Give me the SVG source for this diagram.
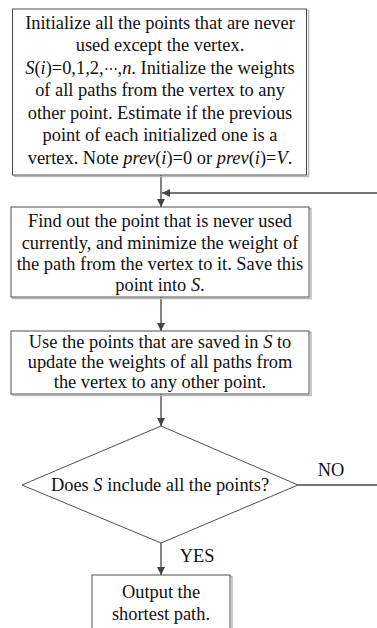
<svg xmlns="http://www.w3.org/2000/svg" width="377" height="628" viewBox="0 0 377 628">
<style>
.box{fill:#fff;stroke:#505050;stroke-width:1}
.sh{fill:none;stroke:#b8b8b8;stroke-width:1.5}
text{font-family:"Liberation Serif","Times New Roman",serif;font-size:18.4px;fill:#111;text-anchor:middle}
.i{font-style:italic}
.ln{stroke:#444;stroke-width:1.3;fill:none}
</style>
<defs>
<marker id="ah" viewBox="0 0 10 10" refX="10" refY="5" markerWidth="9" markerHeight="8" markerUnits="userSpaceOnUse" orient="auto">
<path d="M0,0 L10,5 L0,10 Z" fill="#444"/>
</marker>
</defs>
<rect width="377" height="628" fill="#fff"/>
<g id="connectors">
<line class="ln" x1="161" y1="175" x2="161" y2="207" marker-end="url(#ah)"/>
<line class="ln" x1="377" y1="193" x2="162" y2="193" marker-end="url(#ah)"/>
<line class="ln" x1="161" y1="297" x2="161" y2="331" marker-end="url(#ah)"/>
<line class="ln" x1="161" y1="394" x2="161" y2="426" marker-end="url(#ah)"/>
<line class="ln" x1="161" y1="543" x2="161" y2="575" marker-end="url(#ah)"/>
<line class="ln" x1="298" y1="485" x2="377" y2="485"/>
<text x="197" y="562">YES</text>
<text x="331" y="476">NO</text>
</g>
<g id="init">
<rect class="sh" x="14.5" y="10.5" width="294" height="166"/>
<rect class="box" x="12.5" y="9" width="294" height="166"/>
<text x="160" y="28.5">Initialize all the points that are never</text>
<text x="160" y="51">used except the vertex.</text>
<text x="160" y="73.5"><tspan class="i">S</tspan>(<tspan class="i">i</tspan>)=0,1,2,<tspan font-family="DejaVu Serif" font-size="14">⋯</tspan>,<tspan class="i">n</tspan>. Initialize the weights</text>
<text x="160" y="96">of all paths from the vertex to any</text>
<text x="160" y="118.5">other point. Estimate if the previous</text>
<text x="160" y="141">point of each initialized one is a</text>
<text x="160" y="163.5">vertex. Note <tspan class="i">prev</tspan>(<tspan class="i">i</tspan>)=0 or <tspan class="i">prev</tspan>(<tspan class="i">i</tspan>)=<tspan class="i">V</tspan>.</text>
</g>
<g id="find">
<rect class="sh" x="13" y="208.5" width="298" height="90"/>
<rect class="box" x="11" y="207" width="298" height="90"/>
<text x="160" y="227">Find out the point that is never used</text>
<text x="160" y="248.5">currently, and minimize the weight of</text>
<text x="160" y="270">the path from the vertex to it. Save this</text>
<text x="160" y="291">point into <tspan class="i">S</tspan>.</text>
</g>
<g id="update">
<rect class="sh" x="13" y="332.5" width="298" height="63"/>
<rect class="box" x="11" y="331" width="298" height="63"/>
<text x="160" y="347.5">Use the points that are saved in <tspan class="i">S</tspan> to</text>
<text x="160" y="367.5">update the weights of all paths from</text>
<text x="160" y="387.5">the vertex to any other point.</text>
</g>
<g id="decision">
<polygon class="box" points="161,426 298,485 161,543 22,485"/>
<text x="160" y="491">Does <tspan class="i">S</tspan> include all the points?</text>
</g>
<g id="output">
<rect class="sh" x="94" y="576.5" width="138" height="70"/>
<rect class="box" x="92" y="575" width="138" height="70"/>
<text x="161" y="598">Output the</text>
<text x="161" y="620">shortest path.</text>
</g>
</svg>
